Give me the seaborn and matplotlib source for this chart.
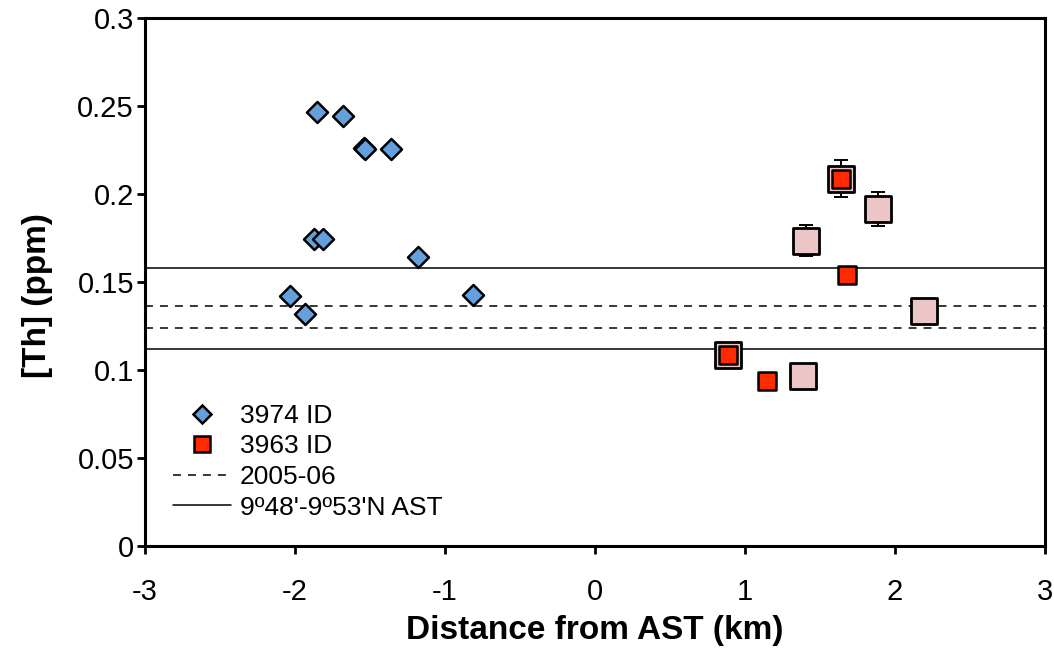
import matplotlib
matplotlib.use("Agg")
import matplotlib.pyplot as plt
import seaborn as sns
from matplotlib.lines import Line2D

# Th concentrations vs. distance from the axial summit trough
# 3974 ID samples (diamonds)
dist_3974 = [-1.851, -1.680, -1.540, -1.535, -1.360, -1.871, -1.811, -1.180, -2.031, -1.931, -0.811]
th_3974 = [0.2468, 0.2445, 0.2260, 0.2257, 0.2254, 0.1743, 0.1743, 0.1642, 0.1420, 0.1318, 0.1424]

# 3963 ID samples (red squares)
dist_3963 = [0.889, 1.147, 1.678, 1.638]
th_3963 = [0.1083, 0.0938, 0.1538, 0.2085]

# 3963 companion samples with uncertainties (pink squares)
dist_pink = [0.889, 1.389, 1.409, 1.638, 1.889, 2.193]
th_pink = [0.1083, 0.0967, 0.1735, 0.2087, 0.1916, 0.1333]
err_pink = [0.004, 0.004, 0.0087, 0.0105, 0.0097, 0.005]

# reference ranges
range_2005_06 = [0.1237, 0.1365]
range_ast = [0.1119, 0.1578]

x_ticks = [-3, -2, -1, 0, 1, 2, 3]
y_ticks = [0, 0.05, 0.1, 0.15, 0.2, 0.25, 0.3]
y_tick_labels = ["0", "0.05", "0.1", "0.15", "0.2", "0.25", "0.3"]

sns.set_style("ticks")
plt.rcParams["font.family"] = ["Liberation Sans", "DejaVu Sans"]
plt.rcParams["text.color"] = "black"
plt.rcParams["axes.labelcolor"] = "black"

fig = plt.figure(figsize=(10.54, 6.60), dpi=100)
ax = fig.add_axes([145 / 1054, 114 / 660, 900 / 1054, 528 / 660])

dash = (0, (5.2, 4.6))
for v in range_2005_06:
    ax.axhline(v, color="black", lw=1.1, ls=dash, zorder=1)
for v in range_ast:
    ax.axhline(v, color="black", lw=1.1, ls="-", zorder=1)

ax.errorbar(dist_pink, th_pink, yerr=err_pink, fmt="none", ecolor="black",
            elinewidth=1.4, capsize=5, capthick=1.4, zorder=2)
sns.scatterplot(x=dist_pink, y=th_pink, marker="s", s=18.7 ** 2, color="#ECC6C6",
                edgecolor="black", linewidth=2.0, ax=ax, legend=False, zorder=3)
sns.scatterplot(x=dist_3963, y=th_3963, marker="s", s=13.3 ** 2, color="#FF2A00",
                edgecolor="black", linewidth=1.8, ax=ax, legend=False, zorder=4)
sns.scatterplot(x=dist_3974, y=th_3974, marker="D", s=10.7 ** 2, color="#64A0DC",
                edgecolor="black", linewidth=1.8, ax=ax, legend=False, zorder=5)

ax.set_xlim(-3, 3)
ax.set_ylim(0, 0.3)
ax.set_xticks(x_ticks)
ax.set_xticklabels([str(t) for t in x_ticks])
ax.set_yticks(y_ticks)
ax.set_yticklabels(y_tick_labels)

for s in ax.spines.values():
    s.set_linewidth(2.2)
    s.set_color("black")
ax.tick_params(direction="out", length=6, width=2.0, labelsize=21,
               colors="black", labelcolor="black")
ax.tick_params(axis="x", pad=17)
ax.tick_params(axis="y", pad=2)

ax.set_xlabel("Distance from AST (km)", fontsize=24, fontweight="bold", color="black")
ax.set_ylabel("[Th] (ppm)", fontsize=24, fontweight="bold", color="black")
ax.xaxis.set_label_coords(0.5, -0.13)
ax.yaxis.set_label_coords(-0.102, 0.4735)

handles = [
    Line2D([], [], ls="none", marker="D", markersize=9.5, markerfacecolor="#64A0DC",
           markeredgecolor="black", markeredgewidth=1.8),
    Line2D([], [], ls="none", marker="s", markersize=12, markerfacecolor="#FF2A00",
           markeredgecolor="black", markeredgewidth=1.8),
    Line2D([], [], color="black", lw=1.1, ls=dash),
    Line2D([], [], color="black", lw=1.1, ls="-"),
]
labels = ["3974 ID", "3963 ID", "2005-06", "9º48'-9º53'N AST"]
leg = ax.legend(handles, labels, loc="lower left", bbox_to_anchor=(0.031, 0.05),
                frameon=False, fontsize=19, handlelength=2.2, handletextpad=0.33,
                labelspacing=0.25, borderpad=0, borderaxespad=0)
for t in leg.get_texts():
    t.set_color("black")

fig.savefig("out.png", dpi=100)
